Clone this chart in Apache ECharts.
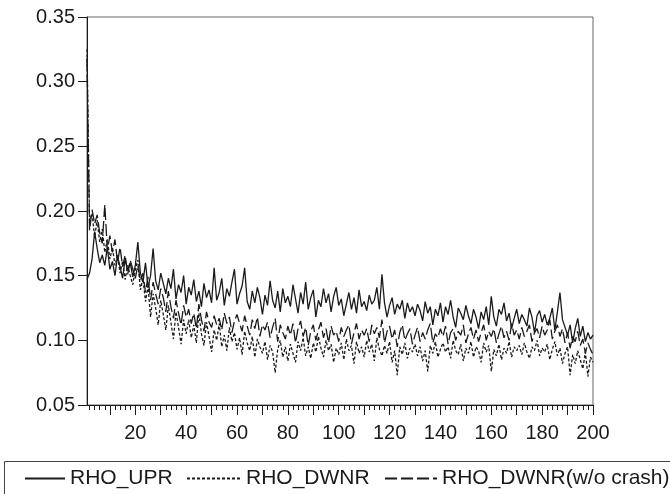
<!DOCTYPE html>
<html>
<head>
<meta charset="utf-8">
<script src="https://cdn.jsdelivr.net/npm/echarts@6/dist/echarts.min.js"></script>
<style>html,body{margin:0;padding:0;background:#fff}#c{width:670px;height:494px}</style>
</head>
<body>
<div id="c"></div>
<script>
// ---- data ----
var xValues = [];
for (var i = 1; i <= 200; i++) xValues.push(i);

var rhoUpr = [
0.147,0.152,0.163,0.184,0.171,0.160,0.166,0.158,0.172,0.155,
0.161,0.150,0.165,0.157,0.148,0.163,0.154,0.160,0.149,0.158,
0.176,0.152,0.145,0.160,0.141,0.150,0.171,0.146,0.139,0.152,
0.144,0.136,0.148,0.140,0.155,0.132,0.143,0.137,0.150,0.128,
0.141,0.135,0.147,0.130,0.138,0.126,0.144,0.133,0.139,0.129,
0.156,0.131,0.137,0.148,0.127,0.140,0.134,0.145,0.155,0.128,
0.136,0.142,0.156,0.130,0.124,0.138,0.129,0.141,0.133,0.120,
0.135,0.127,0.146,0.131,0.125,0.138,0.122,0.140,0.129,0.134,
0.126,0.143,0.132,0.121,0.137,0.128,0.145,0.124,0.133,0.139,
0.118,0.131,0.126,0.140,0.129,0.136,0.122,0.134,0.141,0.127,
0.132,0.119,0.128,0.137,0.124,0.133,0.121,0.139,0.126,0.130,
0.123,0.135,0.128,0.131,0.141,0.124,0.151,0.129,0.118,0.127,
0.133,0.120,0.128,0.124,0.131,0.117,0.129,0.122,0.126,0.119,
0.128,0.123,0.115,0.130,0.121,0.126,0.112,0.124,0.119,0.129,
0.114,0.126,0.120,0.131,0.118,0.110,0.125,0.121,0.116,0.127,
0.119,0.113,0.124,0.118,0.109,0.122,0.116,0.126,0.112,0.134,
0.118,0.111,0.124,0.120,0.129,0.115,0.121,0.109,0.117,0.124,
0.113,0.120,0.116,0.111,0.125,0.118,0.106,0.119,0.123,0.114,
0.120,0.112,0.117,0.125,0.108,0.122,0.137,0.116,0.110,0.104,
0.112,0.098,0.109,0.117,0.103,0.111,0.099,0.106,0.101,0.104
];

var rhoDwnr = [
0.325,0.192,0.198,0.180,0.193,0.176,0.186,0.168,0.178,0.163,
0.172,0.158,0.166,0.152,0.161,0.147,0.158,0.150,0.143,0.155,
0.162,0.139,0.148,0.130,0.142,0.118,0.136,0.125,0.112,0.131,
0.120,0.108,0.127,0.114,0.101,0.122,0.110,0.097,0.116,0.105,
0.116,0.102,0.112,0.098,0.121,0.105,0.096,0.114,0.103,0.091,
0.108,0.100,0.113,0.095,0.104,0.092,0.110,0.099,0.106,0.093,
0.102,0.089,0.107,0.098,0.092,0.103,0.087,0.101,0.095,0.090,
0.099,0.085,0.096,0.091,0.075,0.093,0.100,0.087,0.095,0.084,
0.097,0.090,0.083,0.099,0.092,0.102,0.088,0.095,0.086,0.098,
0.091,0.103,0.094,0.087,0.100,0.092,0.097,0.083,0.094,0.089,
0.098,0.085,0.101,0.092,0.096,0.082,0.099,0.090,0.095,0.087,
0.100,0.091,0.097,0.084,0.102,0.093,0.088,0.096,0.090,0.099,
0.083,0.092,0.073,0.095,0.089,0.098,0.086,0.094,0.091,0.097,
0.088,0.095,0.084,0.092,0.076,0.096,0.090,0.099,0.087,0.093,
0.098,0.091,0.095,0.086,0.100,0.092,0.089,0.097,0.084,0.094,
0.090,0.099,0.087,0.095,0.092,0.083,0.098,0.091,0.096,0.076,
0.093,0.088,0.097,0.085,0.094,0.090,0.099,0.087,0.095,0.092,
0.096,0.089,0.098,0.091,0.086,0.095,0.092,0.100,0.088,0.094,
0.091,0.097,0.085,0.093,0.099,0.088,0.094,0.082,0.090,0.095,
0.073,0.089,0.082,0.092,0.085,0.078,0.091,0.072,0.087,0.083
];

var rhoDwnrNoCrash = [
0.318,0.185,0.201,0.190,0.197,0.183,0.175,0.205,0.170,0.181,
0.168,0.178,0.160,0.172,0.157,0.166,0.151,0.162,0.155,0.148,
0.158,0.146,0.152,0.137,0.149,0.131,0.145,0.136,0.128,0.140,
0.133,0.122,0.138,0.126,0.117,0.131,0.121,0.112,0.127,0.118,
0.124,0.113,0.121,0.109,0.128,0.116,0.107,0.122,0.114,0.110,
0.119,0.112,0.117,0.108,0.121,0.113,0.118,0.106,0.115,0.120,
0.113,0.107,0.119,0.111,0.104,0.116,0.109,0.118,0.103,0.112,
0.108,0.114,0.102,0.110,0.117,0.099,0.112,0.106,0.101,0.111,
0.104,0.113,0.098,0.109,0.115,0.103,0.110,0.096,0.107,0.112,
0.100,0.108,0.114,0.102,0.109,0.098,0.111,0.104,0.107,0.099,
0.110,0.103,0.108,0.112,0.097,0.106,0.113,0.101,0.108,0.104,
0.109,0.099,0.112,0.105,0.110,0.102,0.116,0.098,0.107,0.111,
0.101,0.108,0.095,0.106,0.112,0.100,0.105,0.109,0.097,0.104,
0.110,0.099,0.106,0.101,0.108,0.113,0.098,0.105,0.102,0.109,
0.103,0.111,0.097,0.106,0.109,0.100,0.107,0.104,0.112,0.098,
0.105,0.110,0.101,0.108,0.099,0.106,0.112,0.100,0.107,0.103,
0.109,0.098,0.105,0.111,0.102,0.107,0.100,0.113,0.104,0.108,
0.101,0.110,0.103,0.107,0.112,0.099,0.106,0.109,0.102,0.111,
0.104,0.108,0.116,0.101,0.107,0.112,0.103,0.109,0.098,0.106,
0.094,0.103,0.099,0.107,0.096,0.101,0.090,0.098,0.093,0.089
];

var seriesNames = ['RHO_UPR', 'RHO_DWNR', 'RHO_DWNR(w/o crash)'];
var xLabelValues = [20, 40, 60, 80, 100, 120, 140, 160, 180, 200];
var xMajorTicks = [10, 20, 30, 40, 50, 60, 70, 80, 90, 100, 110, 120, 130, 140, 150, 160, 170, 180, 190, 200];
var xMinorTicks = [];
for (var t = 2; t <= 200; t += 2) xMinorTicks.push(t);

// ---- chart ----
var FONT = "'Liberation Sans', Arial, Helvetica, sans-serif";
var INK = '#1a1a1a';
function pairs(arr) { return arr.map(function (v, k) { return [xValues[k], v]; }); }

function legendItem(idx, left, w) {
  return {
    data: [seriesNames[idx]], left: left, top: 468, padding: 0,
    itemWidth: w, itemHeight: 14, itemGap: 0,
    itemStyle: { opacity: 0 },
    textStyle: { fontSize: 21, color: INK, fontFamily: FONT, padding: [0, 0, 0, 0] }
  };
}

var chart = echarts.init(document.getElementById('c'), null, { renderer: 'canvas' });
chart.setOption({
  animation: false,
  backgroundColor: '#fff',
  textStyle: { fontFamily: FONT },
  grid: { left: 87, right: 77, top: 17, bottom: 89, show: true, borderColor: '#666', borderWidth: 1, backgroundColor: 'transparent' },
  xAxis: [{
    type: 'value', min: 1, max: 200,
    axisLine: { show: true, lineStyle: { color: INK, width: 1 } },
    axisTick: { show: true, inside: false, length: 10, customValues: xMajorTicks, lineStyle: { color: INK } },
    axisLabel: { show: true, customValues: xLabelValues, margin: 18, fontSize: 20, color: INK, fontFamily: FONT },
    splitLine: { show: false }
  }, {
    type: 'value', min: 1, max: 200, position: 'bottom',
    axisLine: { show: false },
    axisTick: { show: true, inside: false, length: 5, customValues: xMinorTicks, lineStyle: { color: INK } },
    axisLabel: { show: false },
    splitLine: { show: false }
  }],
  yAxis: {
    type: 'value', min: 0.05, max: 0.35, interval: 0.05,
    axisLine: { show: true, lineStyle: { color: INK, width: 1 } },
    axisTick: { show: true, inside: false, length: 9, lineStyle: { color: INK } },
    axisLabel: { margin: 12, fontSize: 20, color: INK, fontFamily: FONT, formatter: function (v) { return v.toFixed(2); } },
    splitLine: { show: false }
  },
  legend: [
    legendItem(0, 24, 40),
    legendItem(1, 186, 54),
    legendItem(2, 384, 52)
  ],
  graphic: [{
    type: 'rect', left: 4, top: 461, silent: true,
    shape: { width: 700, height: 60 },
    style: { fill: 'transparent', stroke: '#444', lineWidth: 1 }
  }],
  series: [{
    name: seriesNames[0], type: 'line', data: pairs(rhoUpr), showSymbol: false, symbol: 'none',
    lineStyle: { color: INK, width: 1.3, type: 'solid' }, itemStyle: { color: INK }
  }, {
    name: seriesNames[1], type: 'line', data: pairs(rhoDwnr), showSymbol: false, symbol: 'none',
    lineStyle: { color: INK, width: 1.3, type: [3, 2] }, itemStyle: { color: INK }
  }, {
    name: seriesNames[2], type: 'line', data: pairs(rhoDwnrNoCrash), showSymbol: false, symbol: 'none',
    lineStyle: { color: INK, width: 1.3, type: [12, 4] }, itemStyle: { color: INK }
  }]
});
</script>
</body>
</html>
